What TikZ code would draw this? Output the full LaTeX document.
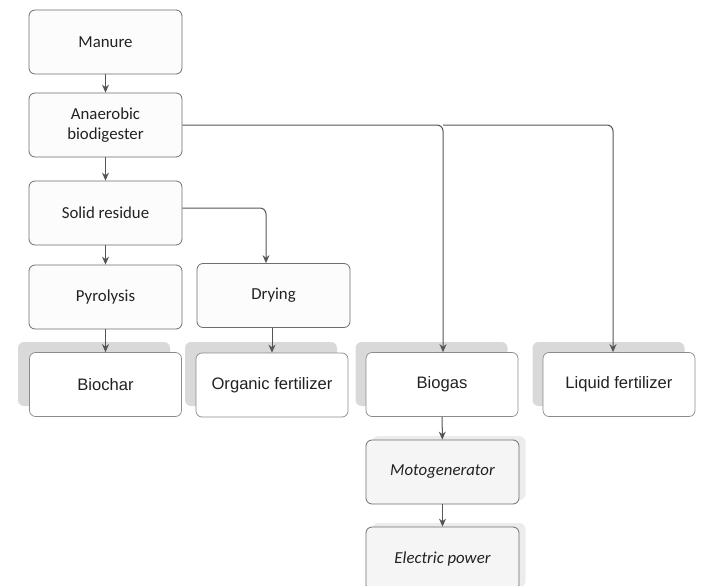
\documentclass[tikz,border=0pt]{standalone}
\usepackage{fontspec}
\setmainfont{Carlito}
\newfontfamily\arialf{Liberation Sans}
\usetikzlibrary{arrows.meta,positioning,calc}
\definecolor{boxline}{HTML}{6E6E6E}
\definecolor{arrowc}{HTML}{555555}
\definecolor{shadowc}{HTML}{D9D9D9}
\definecolor{softshadow}{HTML}{ECECEC}
\definecolor{procfill}{HTML}{FCFCFC}
\definecolor{italfill}{HTML}{F5F5F5}
\definecolor{txt}{HTML}{222222}
\tikzset{
  x=1pt,y=-1pt,
  procbox/.style={draw=boxline, line width=0.8pt, rounded corners=6pt, fill=procfill,
    minimum width=153pt, minimum height=64pt, inner sep=2pt, align=center,
    font=\fontsize{16.8}{20}\selectfont, text=txt},
  italbox/.style={procbox, fill=italfill, font=\fontsize{16.8}{20}\selectfont\itshape},
  outbox/.style={draw=boxline!80, line width=0.7pt, rounded corners=6pt, fill=white,
    minimum width=152pt, minimum height=64pt, inner sep=2pt, align=center,
    font=\arialf\fontsize{16.6}{19}\selectfont, text=txt},
  shadowbox/.style={fill=shadowc, rounded corners=6pt, minimum width=152pt, minimum height=64pt, inner sep=0pt},
  softbox/.style={fill=softshadow, rounded corners=6pt, minimum width=153pt, minimum height=64pt, inner sep=0pt},
  conn/.style={draw=arrowc, line width=1pt, rounded corners=6pt, -{Stealth[length=8pt,width=7pt]}},
}
\begin{document}
\begin{tikzpicture}
\useasboundingbox (0,0) rectangle (702,586);
% shadows
\node[shadowbox] (biocharS) at (94,374) {};
\node[shadowbox] (organicS) at (261,374) {};
\node[shadowbox] (biogasS) at (431.5,374) {};
\node[shadowbox] (liquidS) at (608.5,374) {};
\node[softbox] (motoS) at (449,468) {};
\node[softbox] (elecS) at (449,555) {};
% process boxes
\node[procbox] (manure) at (105.5,42) {Manure};
\node[procbox] (anaer) at (105.5,125) {Anaerobic\\biodigester};
\node[procbox] (solid) at (105.5,213) {Solid residue};
\node[procbox] (pyro) at (105.5,297) {Pyrolysis};
\node[procbox] (drying) at (273.5,295.5) {Drying};
% outputs
\node[outbox] (biochar) at (105.5,384.5) {Biochar};
\node[outbox] (organic) at (272,385) {Organic fertilizer};
\node[outbox] (biogas) at (442,384.5) {Biogas};
\node[outbox] (liquid) at (619,384.5) {Liquid fertilizer};
% energy
\node[italbox] (moto) at (442.5,472) {Motogenerator};
\node[italbox] (elec) at (442.5,559) {Electric power};
% coordinates
\coordinate (split) at (443,125);
\coordinate (liqcol) at (613,125);
\coordinate (drycol) at (266,208);
% connectors
\draw[conn] (manure) -- (anaer);
\draw[conn] (anaer) -- (solid);
\draw[conn] (solid) -- (pyro);
\draw[conn] (pyro) -- (biochar);
\draw[conn] (drying.south -| organic.north) -- (organic.north);
\draw[conn] (anaer.east) -- (split) -- (split |- biogas.north);
\draw[conn] (split) -- (liqcol) -- (liqcol |- liquid.north);
\draw[conn] (solid.east |- drycol) -- (drycol) -- (drycol |- drying.north);
\draw[conn] (biogas) -- (moto);
\draw[conn] (moto) -- (elec);
\end{tikzpicture}
\end{document}
